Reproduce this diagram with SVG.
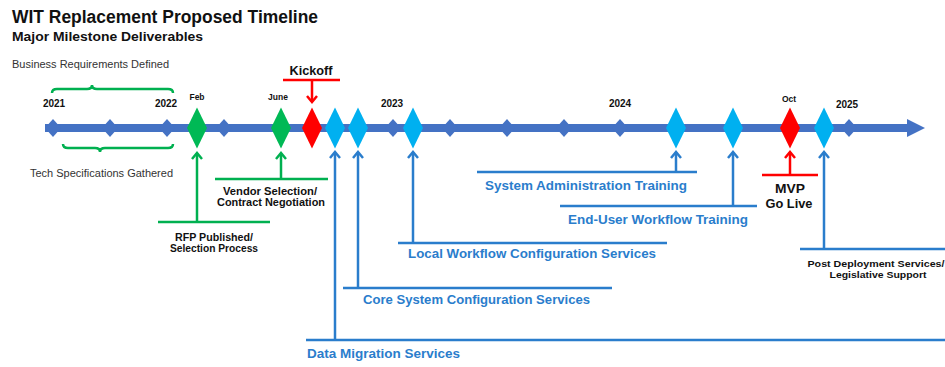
<svg xmlns="http://www.w3.org/2000/svg" width="945" height="367" viewBox="0 0 945 367">
<style>
text{font-family:"Liberation Sans",Arial,sans-serif;}
.b{font-weight:bold;fill:#111;}
.n{fill:#333;font-size:10px;}
.yr{font-weight:bold;fill:#111;font-size:10px;text-anchor:middle;}
.mo{font-weight:bold;fill:#111;font-size:8.5px;text-anchor:middle;}
.bl{font-weight:bold;fill:#2A7DCC;font-size:13px;}
.sm{fill:#4472C4;}
.gr{fill:#00B955;}
.rd{fill:#FF0000;}
.lb{fill:#00B0F0;}
.cg{stroke:#00B050;stroke-width:2.5;fill:none;}
.cb{stroke:#2A7DCC;stroke-width:2.5;fill:none;}
.cr{stroke:#FF0000;stroke-width:2.5;fill:none;}
</style>
<defs>
<path id="sd" d="M0,-9 L8,0 L0,9 L-8,0Z"/>
<path id="bd" d="M0,-20.5 L10,0 L0,20.5 L-10,0Z"/>
<marker id="ag" markerUnits="userSpaceOnUse" viewBox="-8 -7 10 14" markerWidth="10" markerHeight="14" refX="0" refY="0" orient="auto"><path d="M-6,-5 L0,0 L-6,5" stroke="#00B050" stroke-width="2.5" fill="none"/></marker>
<marker id="ab" markerUnits="userSpaceOnUse" viewBox="-8 -7 10 14" markerWidth="10" markerHeight="14" refX="0" refY="0" orient="auto"><path d="M-6,-5 L0,0 L-6,5" stroke="#2A7DCC" stroke-width="2.5" fill="none"/></marker>
<marker id="ar" markerUnits="userSpaceOnUse" viewBox="-8 -7 10 14" markerWidth="10" markerHeight="14" refX="0" refY="0" orient="auto"><path d="M-6,-5 L0,0 L-6,5" stroke="#FF0000" stroke-width="2.5" fill="none"/></marker>
</defs>
<rect width="945" height="367" fill="#fff"/>

<g id="header">
<text x="12" y="23" class="b" font-size="18" textLength="306" lengthAdjust="spacingAndGlyphs">WIT Replacement Proposed Timeline</text>
<text x="12" y="41" class="b" font-size="12.5" textLength="191" lengthAdjust="spacingAndGlyphs">Major Milestone Deliverables</text>
</g>

<g id="timeline">
<rect x="45" y="124" width="864" height="8" class="sm"/>
<polygon points="907,119 925,128 907,137" class="sm"/>
<use href="#sd" x="53" y="128" class="sm"/>
<use href="#sd" x="110" y="128" class="sm"/>
<use href="#sd" x="167" y="128" class="sm"/>
<use href="#sd" x="224" y="128" class="sm"/>
<use href="#sd" x="393" y="128" class="sm"/>
<use href="#sd" x="450" y="128" class="sm"/>
<use href="#sd" x="507" y="128" class="sm"/>
<use href="#sd" x="564" y="128" class="sm"/>
<use href="#sd" x="620" y="128" class="sm"/>
<use href="#sd" x="849" y="128" class="sm"/>
<text x="54" y="107" class="yr">2021</text>
<text x="166" y="107" class="yr">2022</text>
<text x="392" y="107" class="yr">2023</text>
<text x="620" y="107" class="yr">2024</text>
<text x="847" y="108" class="yr">2025</text>
</g>

<g id="business-requirements">
<text x="12" y="68" class="n" textLength="157" lengthAdjust="spacingAndGlyphs">Business Requirements Defined</text>
<path d="M52,93 Q52,89 57,89 L87,89 Q92,89 92,85 Q92,89 97,89 L168,89 Q173,89 173,93" class="cg"/>
</g>
<g id="tech-specs">
<path d="M63,144 Q63,148 68,148 L95,148 Q100,148 100,152 Q100,148 105,148 L168,148 Q173,148 173,144" class="cg"/>
<text x="30" y="177" class="n" textLength="143" lengthAdjust="spacingAndGlyphs">Tech Specifications Gathered</text>
</g>

<g id="feb-rfp">
<use href="#bd" x="197" y="128" class="gr"/>
<text x="197" y="100" class="mo">Feb</text>
<text x="214" y="241" class="b" font-size="10" text-anchor="middle" textLength="78" lengthAdjust="spacingAndGlyphs">RFP Published/</text>
<text x="214" y="252" class="b" font-size="10" text-anchor="middle" textLength="88" lengthAdjust="spacingAndGlyphs">Selection Process</text>
</g>
<g id="june-vendor">
<use href="#bd" x="281" y="128" class="gr"/>
<text x="278" y="100" class="mo">June</text>
<text x="270" y="195" class="b" font-size="10" text-anchor="middle" textLength="94" lengthAdjust="spacingAndGlyphs">Vendor Selection/</text>
<text x="271" y="206" class="b" font-size="10" text-anchor="middle" textLength="108" lengthAdjust="spacingAndGlyphs">Contract Negotiation</text>
</g>
<g id="kickoff">
<use href="#bd" x="312" y="128" class="rd"/>
<text x="311" y="75" class="b" font-size="12" text-anchor="middle" textLength="43" lengthAdjust="spacingAndGlyphs">Kickoff</text>
</g>
<g id="data-migration">
<use href="#bd" x="335" y="128" class="lb"/>
<text x="307" y="358" class="bl" textLength="153" lengthAdjust="spacingAndGlyphs">Data Migration Services</text>
</g>
<g id="core-system">
<use href="#bd" x="358" y="128" class="lb"/>
<text x="363" y="304" class="bl" textLength="227" lengthAdjust="spacingAndGlyphs">Core System Configuration Services</text>
</g>
<g id="local-workflow">
<use href="#bd" x="413" y="128" class="lb"/>
<text x="408" y="258" class="bl" textLength="248" lengthAdjust="spacingAndGlyphs">Local Workflow Configuration Services</text>
</g>
<g id="sysadmin-training">
<use href="#bd" x="676" y="128" class="lb"/>
<text x="485" y="190" class="bl" textLength="202" lengthAdjust="spacingAndGlyphs">System Administration Training</text>
</g>
<g id="enduser-training">
<use href="#bd" x="733" y="128" class="lb"/>
<text x="568" y="224" class="bl" textLength="180" lengthAdjust="spacingAndGlyphs">End-User Workflow Training</text>
</g>
<g id="mvp-golive">
<use href="#bd" x="790" y="128" class="rd"/>
<text x="789" y="102" class="mo">Oct</text>
<text x="790" y="193" class="b" font-size="13" text-anchor="middle" textLength="30" lengthAdjust="spacingAndGlyphs">MVP</text>
<text x="789" y="208" class="b" font-size="13" text-anchor="middle" textLength="47" lengthAdjust="spacingAndGlyphs">Go Live</text>
</g>
<g id="post-deployment">
<use href="#bd" x="824" y="128" class="lb"/>
<text x="876" y="267" class="b" font-size="9.5" text-anchor="middle" textLength="137" lengthAdjust="spacingAndGlyphs">Post Deployment Services/</text>
<text x="878" y="278" class="b" font-size="9.5" text-anchor="middle" textLength="97" lengthAdjust="spacingAndGlyphs">Legislative Support</text>
</g>

<g id="connectors">
<path d="M158,222 L270,222" class="cg"/>
<path d="M197,222 L197,153" class="cg" marker-end="url(#ag)"/>
<path d="M215,179 L328,179" class="cg"/>
<path d="M281,179 L281,153" class="cg" marker-end="url(#ag)"/>
<path d="M283,80 L340,80" class="cr"/>
<path d="M312,80 L312,102" class="cr" marker-end="url(#ar)"/>
<path d="M306,340 L945,340" class="cb"/>
<path d="M335,340 L335,152" class="cb" marker-end="url(#ab)"/>
<path d="M343,288 L612,288" class="cb"/>
<path d="M358,288 L358,152" class="cb" marker-end="url(#ab)"/>
<path d="M398,243 L667,243" class="cb"/>
<path d="M413,243 L413,152" class="cb" marker-end="url(#ab)"/>
<path d="M477,172 L697,172" class="cb"/>
<path d="M676,172 L676,152" class="cb" marker-end="url(#ab)"/>
<path d="M560,206 L757,206" class="cb"/>
<path d="M733,206 L733,152" class="cb" marker-end="url(#ab)"/>
<path d="M762,175 L818,175" class="cr"/>
<path d="M790,175 L790,152" class="cr" marker-end="url(#ar)"/>
<path d="M800,249 L945,249" class="cb"/>
<path d="M824,249 L824,152" class="cb" marker-end="url(#ab)"/>
</g>
</svg>
